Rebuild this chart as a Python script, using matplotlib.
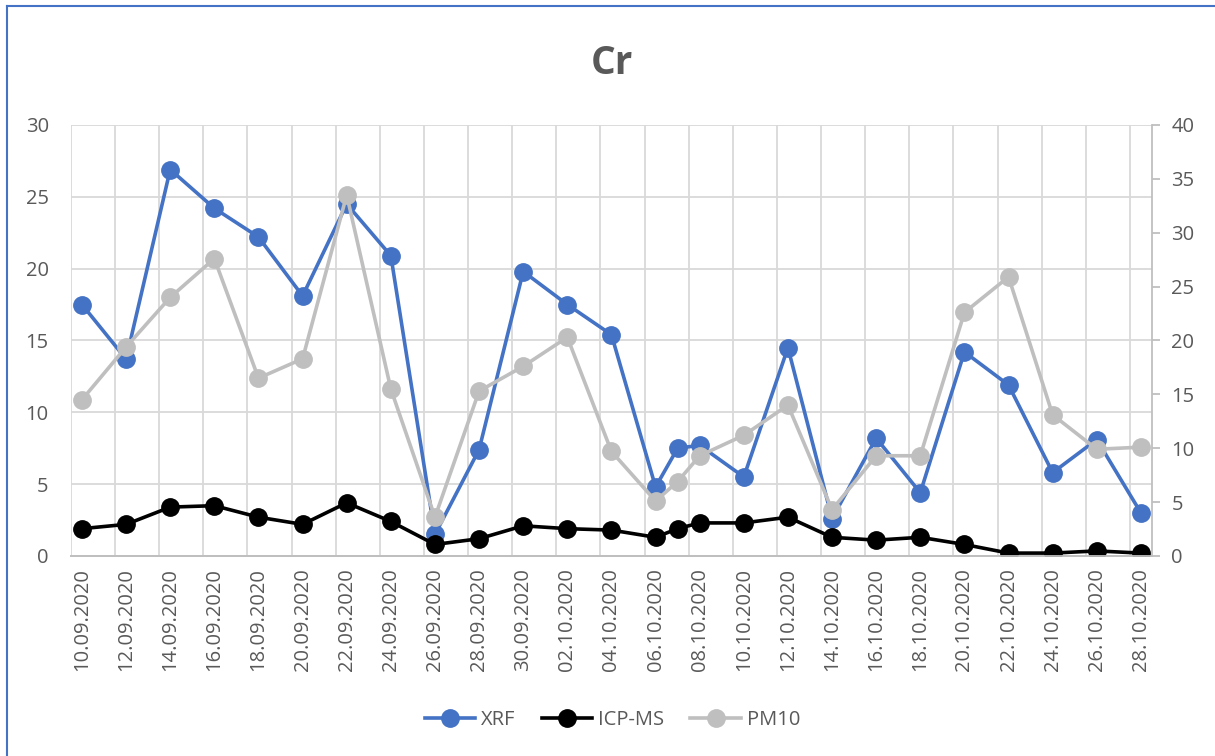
import datetime as dt
import matplotlib
matplotlib.use("Agg")
import matplotlib.pyplot as plt
import matplotlib.dates as mdates
from matplotlib.lines import Line2D

# sampling dates
dates = ["10.09.2020", "12.09.2020", "14.09.2020", "16.09.2020", "18.09.2020",
         "20.09.2020", "22.09.2020", "24.09.2020", "26.09.2020", "28.09.2020",
         "30.09.2020", "02.10.2020", "04.10.2020", "06.10.2020", "07.10.2020",
         "08.10.2020", "10.10.2020", "12.10.2020", "14.10.2020", "16.10.2020",
         "18.10.2020", "20.10.2020", "22.10.2020", "24.10.2020", "26.10.2020",
         "28.10.2020"]

xrf = [17.5, 13.7, 26.9, 24.2, 22.2, 18.1, 24.5, 20.9, 1.5, 7.4,
       19.8, 17.5, 15.4, 4.8, 7.5, 7.7, 5.5, 14.5,
       2.6, 8.2, 4.4, 14.2, 11.9, 5.8, 8.1, 3.0]

icpms = [1.9, 2.2, 3.4, 3.5, 2.7, 2.2, 3.7, 2.4, 0.8, 1.2,
         2.1, 1.9, 1.8, 1.3, 1.9, 2.3, 2.3, 2.7,
         1.3, 1.1, 1.3, 0.8, 0.2, 0.2, 0.35, 0.2]

pm10 = [14.5, 19.4, 24.0, 27.6, 16.5, 18.3, 33.5, 15.5, 3.6, 15.3,
        17.6, 20.3, 9.7, 5.1, 6.9, 9.3, 11.2, 14.0,
        4.3, 9.3, 9.3, 22.6, 25.9, 13.1, 9.9, 10.1]

label_dates = ["10.09.2020", "12.09.2020", "14.09.2020", "16.09.2020", "18.09.2020",
               "20.09.2020", "22.09.2020", "24.09.2020", "26.09.2020", "28.09.2020",
               "30.09.2020", "02.10.2020", "04.10.2020", "06.10.2020", "08.10.2020",
               "10.10.2020", "12.10.2020", "14.10.2020", "16.10.2020", "18.10.2020",
               "20.10.2020", "22.10.2020", "24.10.2020", "26.10.2020", "28.10.2020"]

plt.rcParams['font.family'] = ['Open Sans', 'DejaVu Sans']
txt = '#595959'
grid_c = '#D9D9D9'
lw, ms = 2.6, 12.5

def to_num(s):
    return mdates.date2num(dt.datetime.strptime(s, "%d.%m.%Y"))

x = [to_num(d) for d in dates]
xt = [to_num(d) for d in label_dates]

fig = plt.figure(figsize=(12.15, 7.56), dpi=100)
ax = fig.add_axes([0.0584, 0.2646, 0.8897, 0.5701])
ax2 = ax.twinx()

ax.plot(x, xrf, color='#4472C4', lw=lw, marker='o', ms=ms, zorder=3)
ax.plot(x, icpms, color='black', lw=lw, marker='o', ms=ms, zorder=3)
ax2.plot(x, pm10, color='#BFBFBF', lw=lw, marker='o', ms=ms, zorder=3)

ax.set_xlim(xt[0] - 0.5, xt[-1] + 0.5)
ax.set_ylim(0, 30)
ax2.set_ylim(0, 40)
ax.set_yticks(range(0, 31, 5))
ax2.set_yticks(range(0, 41, 5))

# labels on the dates, gridlines between them
ax.set_xticks(xt)
ax.set_xticklabels(label_dates, rotation=90)
ax.set_xticks([v - 0.5 for v in xt], minor=True)
ax.grid(axis='x', which='minor', color=grid_c, lw=1.3)
ax.grid(axis='y', which='major', color=grid_c, lw=1.3)
ax.set_axisbelow(True)

ax.tick_params(axis='x', which='both', length=0, labelsize=14.5, labelcolor=txt, pad=9)
ax.tick_params(axis='y', length=0, labelsize=14.5, labelcolor=txt, pad=16)
ax2.tick_params(axis='y', length=6, width=1.3, color='#BFBFBF', labelsize=14.5,
                labelcolor=txt, pad=8)

for a in (ax, ax2):
    a.spines['top'].set_visible(False)
    a.spines['left'].set_visible(False)
    a.spines['right'].set_visible(False)
    a.spines['bottom'].set_color('#BFBFBF')
    a.spines['bottom'].set_linewidth(1.3)
ax2.spines['right'].set_visible(True)
ax2.spines['right'].set_color('#BFBFBF')
ax2.spines['right'].set_linewidth(1.3)

fig.text(0.504, 0.916, 'Cr', ha='center', va='center', fontsize=28,
         fontweight='bold', color=txt)

handles = [Line2D([], [], color='#4472C4', lw=lw, marker='o', ms=ms),
           Line2D([], [], color='black', lw=lw, marker='o', ms=ms),
           Line2D([], [], color='#BFBFBF', lw=lw, marker='o', ms=ms)]
fig.legend(handles, ['XRF', 'ICP-MS', 'PM10'], loc='center', ncol=3,
           bbox_to_anchor=(0.504, 0.048), frameon=False, fontsize=14.5,
           labelcolor=txt, handlelength=2.5, columnspacing=1.3, handletextpad=0.3)

# blue frame at top and left
fig.add_artist(Line2D([0.0058, 0.0058], [0, 0.992], transform=fig.transFigure,
                      color='#4472C4', lw=1.5))
fig.add_artist(Line2D([0.0058, 1.0], [0.992, 0.992], transform=fig.transFigure,
                      color='#4472C4', lw=1.5))

fig.savefig('out.png', dpi=100)
